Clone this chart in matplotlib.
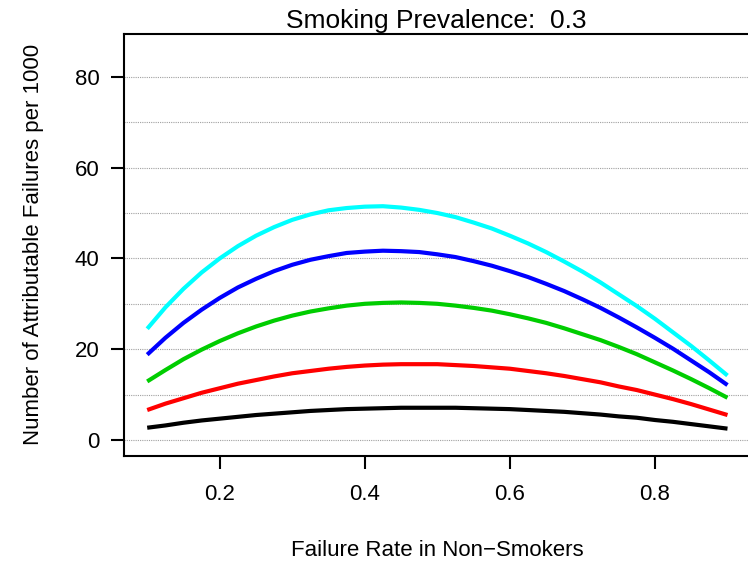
import matplotlib
matplotlib.use("Agg")
import matplotlib.pyplot as plt

plt.rcParams['font.family'] = ['Liberation Sans', 'DejaVu Sans']

# failure rate in non-smokers
rate = [0.100, 0.125, 0.150, 0.175, 0.200, 0.225, 0.250, 0.275, 0.300,
        0.325, 0.350, 0.375, 0.400, 0.425, 0.450, 0.475, 0.500,
        0.525, 0.550, 0.575, 0.600, 0.625, 0.650, 0.675, 0.700,
        0.725, 0.750, 0.775, 0.800, 0.825, 0.850, 0.875, 0.900]

# attributable failures per 1000, one curve per colour
black = [2.7, 3.2, 3.8, 4.3, 4.7, 5.1, 5.5, 5.8, 6.1,
         6.4, 6.6, 6.8, 6.9, 7.0, 7.1, 7.1, 7.1,
         7.1, 7.0, 6.9, 6.8, 6.6, 6.4, 6.2, 5.9,
         5.6, 5.2, 4.9, 4.4, 4.0, 3.5, 3.0, 2.5]
red = [6.6, 8.0, 9.2, 10.4, 11.4, 12.4, 13.2, 14.0, 14.7,
       15.2, 15.7, 16.1, 16.4, 16.6, 16.7, 16.7, 16.7,
       16.5, 16.3, 16.0, 15.7, 15.2, 14.7, 14.1, 13.4,
       12.7, 11.8, 11.0, 10.0, 9.0, 7.9, 6.7, 5.5]
green = [12.9, 15.4, 17.8, 19.9, 21.8, 23.5, 25.0, 26.3, 27.4,
         28.3, 29.0, 29.6, 30.0, 30.2, 30.3, 30.2, 30.0,
         29.6, 29.1, 28.5, 27.7, 26.8, 25.8, 24.6, 23.3,
         22.0, 20.5, 18.9, 17.1, 15.3, 13.4, 11.4, 9.3]
blue = [18.8, 22.5, 25.8, 28.7, 31.3, 33.6, 35.5, 37.2, 38.6,
        39.7, 40.5, 41.2, 41.5, 41.7, 41.6, 41.4, 40.9,
        40.3, 39.4, 38.4, 37.2, 35.9, 34.4, 32.8, 31.0,
        29.1, 27.0, 24.8, 22.5, 20.1, 17.5, 14.9, 12.1]
cyan = [24.5, 29.2, 33.3, 36.9, 40.0, 42.7, 45.0, 46.9, 48.5,
        49.7, 50.6, 51.1, 51.4, 51.5, 51.2, 50.7, 50.0,
        49.1, 47.9, 46.6, 45.0, 43.3, 41.4, 39.3, 37.1,
        34.7, 32.1, 29.5, 26.7, 23.7, 20.7, 17.5, 14.2]

grid_levels = [0, 10, 20, 30, 40, 50, 60, 70, 80]
y_ticks = [0, 20, 40, 60, 80]
x_ticks = [0.2, 0.4, 0.6, 0.8]

fig = plt.figure(figsize=(7.48, 5.64), dpi=100)
ax = fig.add_axes([124 / 748, (564 - 455.6) / 564, 626.7 / 748, 421.6 / 564])

for g in grid_levels:
    ax.axhline(g, color='#a0a0a0', linestyle=(0, (1, 1)), linewidth=0.8, zorder=1)

for ys, c in [(black, 'black'), (red, '#ff0000'), (green, '#00cd00'),
              (blue, '#0000ff'), (cyan, '#00ffff')]:
    ax.plot(rate, ys, color=c, linewidth=3, solid_capstyle='butt', zorder=3)

ax.set_xlim(0.068, 0.932)
ax.set_ylim(-3.44, 89.44)
ax.set_xticks(x_ticks)
ax.set_xticklabels(['0.2', '0.4', '0.6', '0.8'])
ax.set_yticks(y_ticks)
ax.tick_params(axis='both', direction='out', length=9.5, width=1.5, labelsize=16)
ax.tick_params(axis='x', pad=11)
ax.tick_params(axis='y', pad=8)
for s in ax.spines.values():
    s.set_linewidth(1.5)

fig.text(436.5 / 748, 1 - 28 / 564, 'Smoking Prevalence:  0.3', ha='center', va='baseline', fontsize=19)
fig.text(437 / 748, 1 - 551 / 564, 'Failure Rate in Non\u2212Smokers', ha='center', va='center', fontsize=16)
fig.text(34 / 748, 1 - 244 / 564, 'Number of Attributable Failures per 1000', ha='center', va='center',
         rotation=90, fontsize=16)

fig.savefig('out.png', dpi=100)
